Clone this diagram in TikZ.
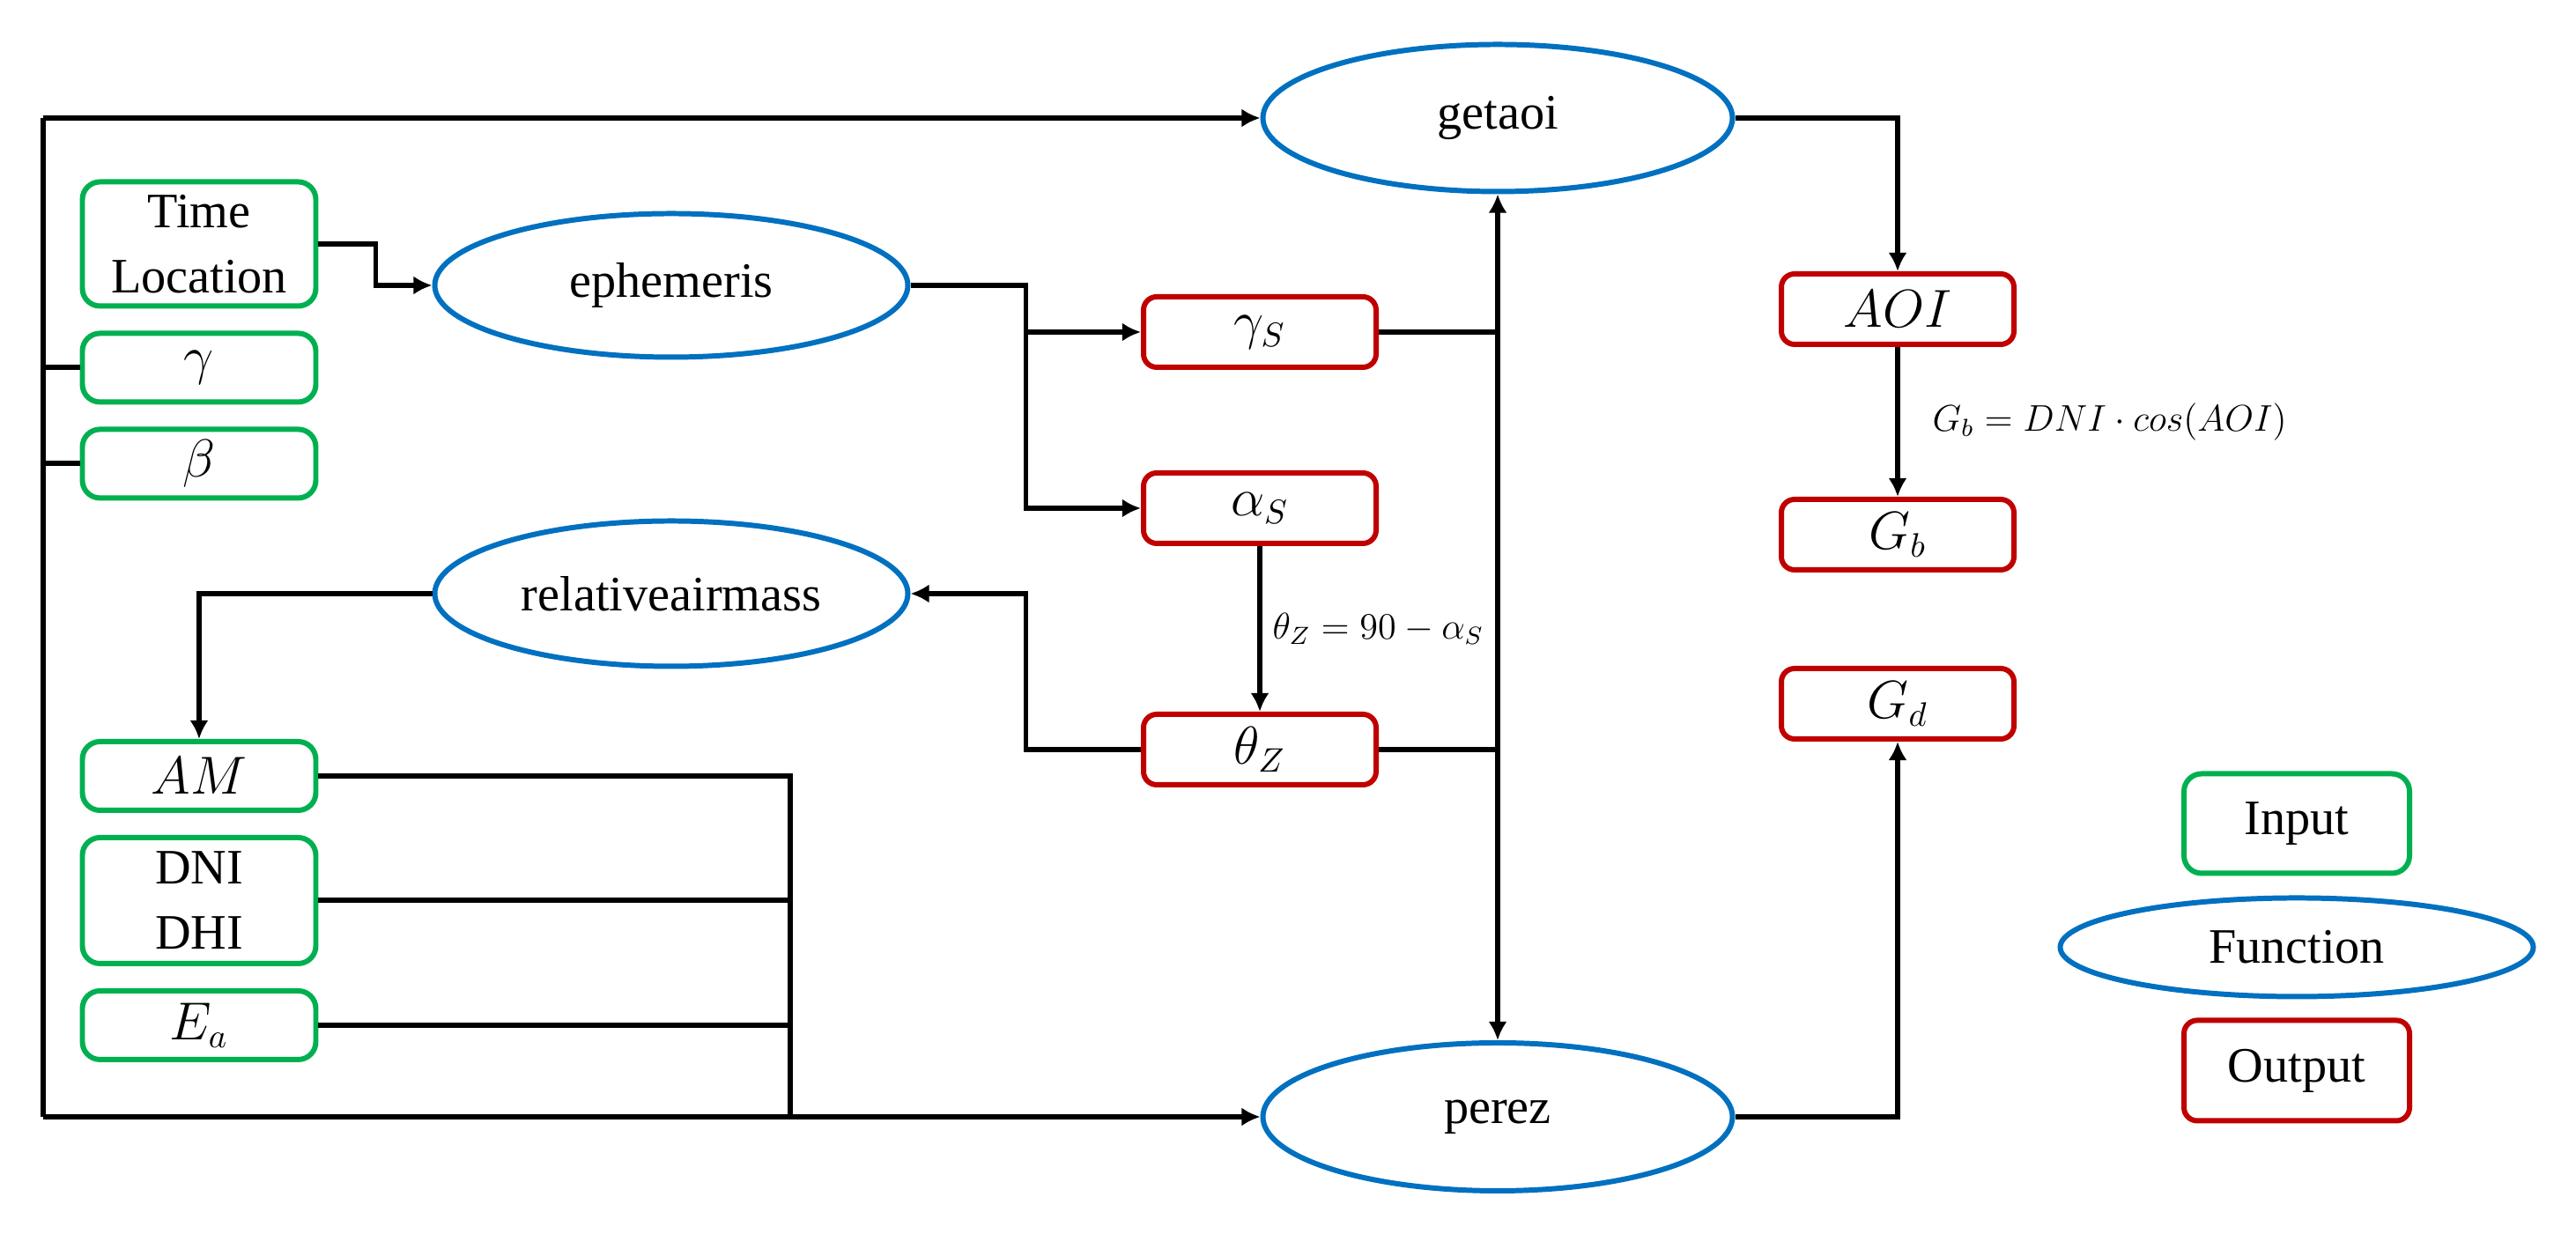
\documentclass[tikz,border=0pt]{standalone}
\usepackage{amsmath}
\usepackage{fontspec}
\setmainfont{Liberation Serif}
\usepackage{tikz}
\usetikzlibrary{calc,%
                shapes,%
                arrows.meta,%
                positioning}
\definecolor{ingreen}{RGB}{0,176,80}
\definecolor{funblue}{RGB}{0,112,192}
\definecolor{outred}{RGB}{192,0,0}
\tikzset{greenbox/.style={
			  rectangle,
			  rounded corners = 2mm,
			  minimum width   = 26.5mm,
			  minimum height  = 7.8mm,
			  line width      = 1.7pt,
			  draw            = ingreen,
			  fill            = white,
			  align           = center,
			  font            = \fontsize{16}{21}\selectfont
			}}
\tikzset{redbox/.style={
			  greenbox,
			  rounded corners = 1.5mm,
			  minimum width   = 26.4mm,
			  minimum height  = 8.0mm,
			  draw            = outred
			}}
\tikzset{blueoval/.style={
			  ellipse,
			  inner sep       = 0pt,
			  minimum width   = 53.7mm,
			  minimum height  = 16.3mm,
			  line width      = 1.7pt,
			  draw            = funblue,
			  fill            = white,
			  font            = \fontsize{16}{19}\selectfont
			}}
\tikzset{eqlabel/.style={
			  font            = \fontsize{12}{14}\selectfont
			}}

\begin{document}
\begin{tikzpicture}[node distance=0.25cm, line width=1.7pt, >={Latex[length=6pt,width=6pt]}]

    \useasboundingbox (0,0) rectangle (29.24,14.01);

    % inputs
    \node (timeloc) [greenbox, minimum height=14.1mm] at (2.26,11.24) {Time\\Location};
    \node (gamma)   [greenbox, below=of timeloc]      {$\gamma$};
    \node (beta)    [greenbox, below=of gamma]        {$\beta$};
    \node (am)      [greenbox] at (2.26,5.20)         {$AM$};
    \node (dni)     [greenbox, minimum height=14.3mm, below=of am] {DNI\\DHI};
    \node (ea)      [greenbox, below=of dni]          {$E_a$};

    % functions
    \node (ephem)   [blueoval] at (7.62,10.77)        {ephemeris};
    \node (relair)  [blueoval, minimum height=16.5mm] at (7.62,7.27) {relativeairmass};
    \node (getaoi)  [blueoval, minimum width=53.3mm, minimum height=16.7mm] at (17.0,12.67) {getaoi};
    \node (perez)   [blueoval, minimum width=53.3mm, minimum height=16.8mm] at (17.0,1.33)  {perez};

    % outputs
    \node (gammas)  [redbox] at (14.30,10.24)         {$\gamma_S$};
    \node (alphas)  [redbox] at (14.30,8.24)          {$\alpha_S$};
    \node (thetaz)  [redbox] at (14.30,5.50)          {$\theta_Z$};
    \node (aoi)     [redbox] at (21.54,10.50)         {$AOI$};
    \node (gb)      [redbox] at (21.54,7.94)          {$G_b$};
    \node (gd)      [redbox] at (21.54,6.02)          {$G_d$};

    % legend
    \node (legin)   [greenbox, minimum width=25.6mm, minimum height=11.3mm] at (26.07,4.66) {Input};
    \node (legfun)  [blueoval, minimum height=11.2mm, below=0.22cm of legin] {Function};
    \node (legout)  [redbox, minimum width=25.6mm, minimum height=11.4mm, below=0.21cm of legfun] {Output};

    \coordinate (lt)    at (0.49,12.67);
    \coordinate (lb)    at (0.49,1.33);
    \coordinate (bus)   at (8.97,1.33);
    \coordinate (split) at ($(ephem.east)+(1.31,0)$);

    \draw (lt) -- (lb);
    \draw [->] (lt) -- (getaoi.west);
    \draw [->] (lb) -- (perez.west);
    \draw (gamma.west) -- (gamma.west -| lt);
    \draw (beta.west)  -- (beta.west -| lt);

    \draw [->] (timeloc.east) -- ++(0.65,0) |- (ephem.west);
    \draw [->] (ephem.east) -- (split) |- (alphas.west);
    \draw [->] (split) |- (gammas.west);
    \draw [->] (alphas) -- (thetaz) node [midway, right, eqlabel] {$\theta_Z = 90 - \alpha_S$};
    \draw [->] (thetaz.west) -- (thetaz.west -| split) |- (relair.east);
    \draw [->] (relair.west) -| (am.north);

    \draw (am.east)  -| (bus);
    \draw (dni.east) -- (dni.east -| bus);
    \draw (ea.east)  -- (ea.east -| bus);

    \draw (gammas.east) -- (gammas.east -| getaoi.south);
    \draw (thetaz.east) -- (thetaz.east -| getaoi.south);
    \draw [<->] (getaoi.south) -- (perez.north);

    \draw [->] (getaoi.east) -| (aoi.north);
    \draw [->] (aoi) -- (gb) node [midway, right=0.25cm, eqlabel] {$G_b = DNI\cdot cos(AOI)$};
    \draw [->] (perez.east) -| (gd.south);

\end{tikzpicture}
\end{document}
